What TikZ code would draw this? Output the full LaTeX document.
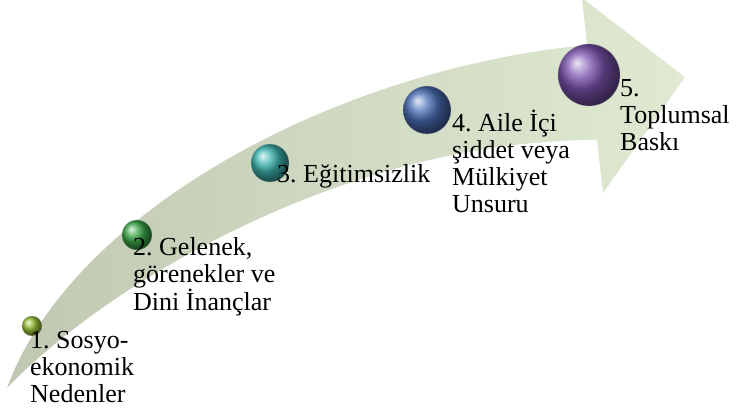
\documentclass[tikz,border=0pt]{standalone}
\usepackage{fontspec}
\setmainfont{Liberation Serif}

\definecolor{arrowgray}{RGB}{192,200,178}
\definecolor{arrowgreen}{RGB}{224,234,210}
\definecolor{ballone}{RGB}{150,188,52}
\definecolor{balltwo}{RGB}{58,168,72}
\definecolor{ballthree}{RGB}{60,180,174}
\definecolor{ballfour}{RGB}{74,110,182}
\definecolor{ballfive}{RGB}{124,84,176}

\begin{document}
\begin{tikzpicture}[x=1pt, y=-1pt,
    ball/.style={circle, inner sep=0pt, draw=black!35, very thin},
    steplabel/.style={anchor=base west, align=left, inner sep=0pt,
        font=\fontsize{26}{27}\selectfont\frenchspacing}]
    \useasboundingbox (0,0) rectangle (736,411);

    % Upward arrow
    \coordinate (tail) at (7,388);
    \coordinate (nu) at (587,45);  % upper notch
    \coordinate (ht) at (582,-2);  % head top
    \coordinate (tip) at (685,77);
    \coordinate (hb) at (603,193); % head bottom
    \coordinate (nl) at (597,140); % lower notch

    \begin{scope}
        \clip (0,0) rectangle (736,411);
        \shade[left color=arrowgray, right color=arrowgreen]
            (tail) .. controls (70,215) and (330,70) .. (nu) -- (ht) -- (tip)
            -- (hb) -- (nl) .. controls (340,140) and (100,290) .. (tail) -- cycle;
    \end{scope}

    % Balls along the arrow
    \foreach \n/\x/\y/\d/\c in {1/32/326/20/ballone, 2/137/235/30/balltwo,
        3/270/163/38/ballthree, 4/427/110/48/ballfour, 5/589/75/62/ballfive}
        \node[ball, minimum size=\d pt, ball color=\c] (b\n) at (\x,\y) {};

    % Step labels (base = last line)
    \node[steplabel] (t1) at (30,402) {1. Sosyo-\\ekonomik\\Nedenler};
    \node[steplabel] (t2) at (133,311) {2. Gelenek,\\görenekler ve\\Dini İnançlar};
    \node[steplabel] (t3) at (277,183) {3. Eğitimsizlik};
    \node[steplabel] (t4) at (452,213) {4. Aile İçi\\şiddet veya\\Mülkiyet\\Unsuru};
    \node[steplabel] (t5) at (620,151) {5.\\Toplumsal\\Baskı};
\end{tikzpicture}
\end{document}
